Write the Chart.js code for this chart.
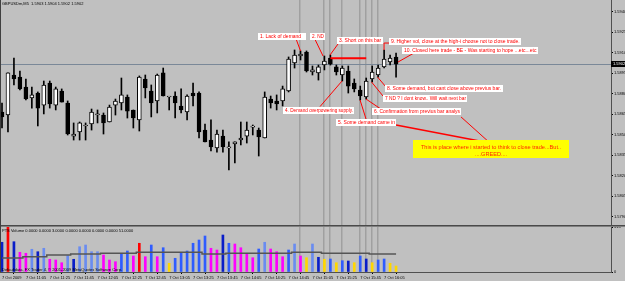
<!DOCTYPE html>
<html><head><meta charset="utf-8">
<script src="https://cdn.jsdelivr.net/npm/chart.js@4.4.0/dist/chart.umd.min.js"></script>
<style>
html,body{margin:0;padding:0;background:#c0c0c0;overflow:hidden}
#wrap{position:relative;width:625px;height:281px;background:#c0c0c0}
#main{position:absolute;left:0;top:0}
#vol{position:absolute;left:0;top:225px}
</style></head><body>
<div id="wrap"><canvas id="main" width="625" height="225"></canvas><canvas id="vol" width="625" height="56"></canvas></div>
<script>
// ---------------- DATA ----------------
const symbolTitle = 'GBPUSDm,M5  1.5903 1.5904 1.5902 1.5902';
const opens = [
1.58666,1.58644,1.58937,1.58922,1.58849,1.58769,1.58805,1.58717,1.58878,1.58717,
1.58820,1.58732,1.58490,1.58520,1.58564,1.58578,1.58644,1.58644,1.58593,1.58717,
1.58732,1.58776,1.58681,1.58608,1.58908,1.58820,1.58747,1.58952,1.58776,1.58783,
1.58710,1.58666,1.58805,1.58805,1.58534,1.58461,1.58403,1.58490,1.58403,1.58432,
1.58461,1.58490,1.58556,1.58534,1.58476,1.58761,1.58747,1.58747,1.58820,1.59025,
1.59076,1.59105,1.58959,1.58952,1.59010,1.59061,1.58996,1.58937,1.58966,1.58878,
1.58827,1.58776,1.58908,1.58937,1.58996,1.59032,1.59069];
const highs = [
1.58732,1.58952,1.59061,1.58966,1.58908,1.58849,1.58813,1.58893,1.58893,1.58849,
1.58835,1.58747,1.58586,1.58593,1.58586,1.58688,1.58681,1.58659,1.58717,1.58761,
1.58915,1.58791,1.58681,1.58930,1.58937,1.58864,1.58944,1.58988,1.58776,1.58813,
1.58835,1.58791,1.58878,1.58813,1.58578,1.58608,1.58534,1.58534,1.58447,1.58447,
1.58593,1.58593,1.58571,1.58549,1.58813,1.58783,1.58791,1.58856,1.59069,1.59120,
1.59113,1.59113,1.59003,1.59010,1.59076,1.59083,1.59010,1.59003,1.59003,1.58908,
1.58856,1.58915,1.59003,1.59010,1.59120,1.59083,1.59098];
const lows = [
1.58549,1.58520,1.58864,1.58827,1.58754,1.58695,1.58564,1.58652,1.58695,1.58681,
1.58739,1.58498,1.58461,1.58461,1.58461,1.58534,1.58586,1.58505,1.58593,1.58644,
1.58681,1.58622,1.58549,1.58527,1.58769,1.58630,1.58659,1.58783,1.58681,1.58622,
1.58659,1.58608,1.58710,1.58476,1.58447,1.58381,1.58373,1.58373,1.58242,1.58293,
1.58425,1.58439,1.58498,1.58344,1.58476,1.58695,1.58681,1.58710,1.58813,1.58988,
1.59047,1.58959,1.58937,1.58900,1.58974,1.59010,1.58937,1.58893,1.58805,1.58813,
1.58754,1.58761,1.58886,1.58922,1.58988,1.59010,1.58922];
const closes = [
1.58630,1.58952,1.58908,1.58835,1.58761,1.58791,1.58695,1.58864,1.58725,1.58835,
1.58739,1.58505,1.58505,1.58586,1.58571,1.58666,1.58652,1.58586,1.58703,1.58747,
1.58791,1.58673,1.58622,1.58922,1.58842,1.58732,1.58937,1.58783,1.58776,1.58732,
1.58681,1.58783,1.58783,1.58520,1.58447,1.58410,1.58505,1.58410,1.58410,1.58447,
1.58476,1.58534,1.58556,1.58483,1.58776,1.58732,1.58725,1.58835,1.59054,1.59083,
1.59091,1.58966,1.58974,1.58996,1.59039,1.59017,1.58959,1.58988,1.58856,1.58835,
1.58783,1.58893,1.58959,1.58988,1.59054,1.59061,1.59017];
const volumes = [
208,330,212,138,131,159,142,166,89,84,
65,114,89,177,189,142,142,119,84,72,
131,147,112,201,107,189,107,170,61,96,
135,147,201,224,252,166,154,259,201,196,
170,131,100,161,208,161,142,107,154,196,
112,100,196,103,89,91,65,79,77,65,
112,91,65,84,91,61,42];
// PTS volume classes per bar
const volumeClasses = [
'D','R','D','M','M','L','D','L','M','M',
'M','L','D','L','L','L','L','M','M','M',
'B','B','M','R','M','B','M','B','Y','B',
'B','B','B','B','B','M','M','D','B','M',
'M','M','M','B','L','M','M','M','B','L',
'M','Y','L','D','Y','B','Y','B','D','Y',
'B','D','Y','B','B','Y','Y'];
const volumeAverage = [
98,98,98,98,107,107,107,107,119,119,119,119,
126,126,126,126,126,131,131,131,131,131,131,
138,138,138,138,138,138,138,138,138,138,138,
126,126,126,126,131,131,131,131,131,131,131,131,131,131,131,
138,138,138,138,138,131,131,131,131,131,131,131,131,
126,126,126,126,126];
const volumeMax = 315;
const volumeTitle = 'PTS Volume 0.0000 0.0000 3.0000 0.0000 0.0000 0.0000 0.0000 51.0000';
const copyrightText = 'Defaultdata, FX Trader 4, \u00a9 2001-2009 MetaQuotes Software Corp.';
const priceTicks = [1.5790,1.5805,1.5820,1.5835,1.5850,1.5865,1.5880,1.5895,1.5910,1.5925,1.5940];
const timeTickBars = [0,4,8,12,16,20,24,28,32,36,40,44,48,52,56,60,64];
const timeTickLabels = ['7 Oct 2009','7 Oct 11:05','7 Oct 11:25','7 Oct 11:45','7 Oct 12:05','7 Oct 12:25','7 Oct 12:45','7 Oct 13:05','7 Oct 13:25','7 Oct 13:45','7 Oct 14:05','7 Oct 14:25','7 Oct 14:45','7 Oct 15:05','7 Oct 15:25','7 Oct 15:45','7 Oct 16:05'];
const currentPrice = 1.5902;
const shortEntry = {from:55, to:61, price:1.5906};
const markedBars = [50,54,55,57,60,61,62,63];
const notes = [
  {text:'1. Lack of demand', from:42.88, to:50.92, price:1.59248},
  {text:'2. ND', from:51.59, to:54.10, price:1.59248},
  {text:'3. Short on this bar', from:56.11, to:63.82, price:1.59215},
  {text:'4. Demand overpowering supply.', from:47.07, to:58.96, price:1.58706},
  {text:'5. Some demand came in', from:55.95, to:66.00, price:1.58615},
  {text:'6. Confirmation from previus bar analys', from:61.89, to:76.88, price:1.58692},
  {text:'7 ND ? I dont know.. Will wait next bar', from:63.82, to:77.89, price:1.58791},
  {text:'8. Some demand, but cant close above previus bar.', from:64.15, to:83.92, price:1.58864},
  {text:'9. Higher vol, close at the high-i choose not to close trade.', from:64.82, to:86.93, price:1.59208},
  {text:'10. Closed here trade - BE - Was starting to hope ...etc...etc', from:67.00, to:89.78, price:1.59142}
];
const connectors = [
  [[49.25,1.59201],[50,1.59113]],
  [[52.43,1.59197],[53.77,1.59076]],
  [[56.28,1.59164],[54.94,1.59083]],
  [[53.27,1.58706],[56.95,1.58893]],
  [[60.97,1.58615],[59.97,1.58754]],
  [[63.32,1.58692],[60.97,1.58761]],
  [[63.82,1.58783],[61.89,1.58886]],
  [[64.32,1.58849],[62.90,1.58922]],
  [[63.99,1.59120],[63.99,1.59171],[64.82,1.59171]],
  [[66.33,1.59032],[68.84,1.59094]],
  [[76.88,1.58630],[81.74,1.58439]]
];
const greedLink = [[66.00,1.58571],[81.74,1.58439]];
const greedNote = {lines:['This is place where i started to think to close trade...But..','....GREED....'], from:68.84, to:94.97, top:1.58461, bottom:1.58330};

// ---------------- STYLE ----------------
const FONT = "'Liberation Sans', Arial, sans-serif";
const style = {
  bull:'#ffffff', bear:'#000000', wick:'#000000',
  volColors:{D:'#0a1ec8', R:'#ff0000', M:'#ff00ff', L:'#6a8cf0', B:'#2f5cff', Y:'#ffd700'},
  avgLine:'#555555', vline:'#a0a0a0', bid:'#7a8898', red:'#ff0000',
  noteFont:'5px '+FONT, axisFont:4
};
const xMin = -0.335, xMax = 102;
const yTop = 1.59486, yBottom = 1.57839;

Chart.defaults.font.family = FONT;
Chart.defaults.color = '#000';

const bars = opens.map((_, i) => i);

function poly(ctx, xs, ys, pts){
  ctx.beginPath();
  pts.forEach((p, k) => {
    const X = xs.getPixelForValue(p[0]), Y = ys.getPixelForValue(p[1]);
    if (k === 0) ctx.moveTo(X, Y); else ctx.lineTo(X, Y);
  });
  ctx.stroke();
}
function vlines(chart){
  const {ctx, chartArea:a, scales:{x}} = chart;
  ctx.save();
  ctx.strokeStyle = style.vline; ctx.lineWidth = 1.5;
  markedBars.forEach(b => {
    const X = Math.floor(x.getPixelForValue(b)) - 0.25;
    ctx.beginPath(); ctx.moveTo(X, a.top); ctx.lineTo(X, a.bottom); ctx.stroke();
  });
  ctx.restore();
}

const mainDecor = {
  id:'mainDecor',
  beforeDatasetsDraw(chart){
    vlines(chart);
    const {ctx, chartArea:a, scales:{y}} = chart;
    const Y = Math.round(y.getPixelForValue(currentPrice)) + 0.5;
    ctx.save(); ctx.strokeStyle = style.bid; ctx.lineWidth = 1;
    ctx.beginPath(); ctx.moveTo(a.left, Y); ctx.lineTo(a.right, Y); ctx.stroke();
    ctx.restore();
  },
  afterDatasetsDraw(chart){
    const {ctx, scales:{x, y}} = chart;
    ctx.save();
    ctx.strokeStyle = style.red; ctx.lineWidth = 1;
    connectors.forEach(c => poly(ctx, x, y, c));
    ctx.lineWidth = 1.6; poly(ctx, x, y, greedLink);
    // notes
    ctx.font = style.noteFont; ctx.textBaseline = 'middle'; ctx.textAlign = 'left';
    notes.forEach(n => {
      const x0 = Math.round(x.getPixelForValue(n.from)), x1 = Math.round(x.getPixelForValue(n.to));
      const y0 = Math.round(y.getPixelForValue(n.price));
      ctx.fillStyle = '#ffffff'; ctx.fillRect(x0, y0, x1 - x0, 7);
      ctx.fillStyle = style.red; ctx.fillText(n.text, x0 + 2, y0 + 3.7, x1 - x0 - 3);
    });
    // greed box
    const gx0 = Math.round(x.getPixelForValue(greedNote.from)), gx1 = Math.round(x.getPixelForValue(greedNote.to));
    const gy0 = Math.round(y.getPixelForValue(greedNote.top)), gy1 = Math.round(y.getPixelForValue(greedNote.bottom));
    ctx.fillStyle = '#ffff00'; ctx.fillRect(gx0, gy0, gx1 - gx0, gy1 - gy0);
    ctx.fillStyle = '#ff2a00'; ctx.font = '5.6px ' + FONT; ctx.textAlign = 'center';
    const cx = (gx0 + gx1) / 2;
    ctx.fillText(greedNote.lines[0], cx, gy0 + 7.5, gx1 - gx0 - 8);
    ctx.fillText(greedNote.lines[1], cx, gy0 + 14.5);
    ctx.restore();
  },
  afterDraw(chart){
    const {ctx, chartArea:a, scales:{y}} = chart;
    ctx.save();
    const Y = Math.round(y.getPixelForValue(currentPrice));
    ctx.fillStyle = '#000'; ctx.fillRect(a.right, Y - 3, 625 - a.right, 6);
    ctx.fillStyle = '#fff'; ctx.font = '4px ' + FONT; ctx.textBaseline = 'middle'; ctx.textAlign = 'left';
    ctx.fillText(currentPrice.toFixed(4), a.right + 2, Y + 0.3);
    ctx.fillStyle = '#000'; ctx.fillText(symbolTitle, 2, 4);
    ctx.fillStyle = '#404040'; ctx.fillRect(0, 0, 1, 225);
    ctx.restore();
  }
};

const volDecor = {
  id:'volDecor',
  beforeDatasetsDraw(chart){ vlines(chart); },
  afterDraw(chart){
    const {ctx} = chart;
    ctx.save();
    ctx.fillStyle = '#4a4a4a'; ctx.fillRect(0, 0, 625, 1);
    ctx.fillStyle = '#808080'; ctx.fillRect(0, 1, 625, 1);
    ctx.fillStyle = '#000'; ctx.font = '4px ' + FONT; ctx.textBaseline = 'middle'; ctx.textAlign = 'left';
    ctx.fillText(volumeTitle, 2, 5.5);
    ctx.fillText(copyrightText, 2, 45);
    ctx.fillStyle = '#404040'; ctx.fillRect(0, 0, 1, 47);
    ctx.restore();
  }
};

new Chart(document.getElementById('main'), {
  type:'bar',
  data:{datasets:[
    {type:'line', data:[{x:shortEntry.from, y:shortEntry.price},{x:shortEntry.to, y:shortEntry.price}],
     borderColor:style.red, borderWidth:2, pointRadius:0, order:0},
    {data:bars.map(i => ({x:i, y:[opens[i], closes[i]]})),
     backgroundColor:bars.map(i => closes[i] >= opens[i] ? style.bull : style.bear),
     borderColor:'#000', borderWidth:1, borderSkipped:false, barThickness:4, minBarLength:1, grouped:false, order:1},
    {data:bars.map(i => ({x:i, y:[lows[i], highs[i]]})),
     backgroundColor:style.wick, borderWidth:0, barThickness:1, grouped:false, order:2}
  ]},
  options:{
    responsive:false, animation:false, devicePixelRatio:1,
    layout:{padding:0},
    plugins:{legend:{display:false}, tooltip:{enabled:false}},
    scales:{
      x:{type:'linear', min:xMin, max:xMax, display:false, offset:false},
      y:{position:'right', min:yBottom, max:yTop,
         afterBuildTicks:s => { s.ticks = priceTicks.map(v => ({value:v})); },
         afterFit:s => { s.width = 14; s.paddingTop = 0; s.paddingBottom = 0; },
         ticks:{font:{size:style.axisFont}, color:'#000', padding:1, autoSkip:false, callback:v => Number(v).toFixed(4)},
         grid:{drawOnChartArea:false, drawTicks:true, tickLength:2, color:'#000'},
         border:{display:true, color:'#505050', width:1}}
    }
  },
  plugins:[mainDecor]
});

new Chart(document.getElementById('vol'), {
  type:'bar',
  data:{datasets:[
    {type:'line', data:volumeAverage.map((v, i) => ({x:i, y:v})), stepped:'middle',
     borderColor:style.avgLine, borderWidth:1.5, pointRadius:0, order:0},
    {data:volumes.map((v, i) => ({x:i, y:v})),
     backgroundColor:volumeClasses.map(c => style.volColors[c]), barThickness:2, borderWidth:0, clip:0, order:1}
  ]},
  options:{
    responsive:false, animation:false, devicePixelRatio:1,
    layout:{padding:{top:2, left:0, right:0, bottom:0}},
    plugins:{legend:{display:false}, tooltip:{enabled:false}},
    scales:{
      x:{type:'linear', min:xMin, max:xMax, offset:false, position:'bottom',
         afterBuildTicks:s => { s.ticks = timeTickBars.map(v => ({value:v})); },
         afterFit:s => { s.height = 9; s.paddingLeft = 0; s.paddingRight = 0; },
         ticks:{align:'start', font:{size:style.axisFont}, color:'#000', padding:1, autoSkip:false, maxRotation:0,
                callback:(v, idx) => timeTickLabels[idx]},
         grid:{drawOnChartArea:false, drawTicks:true, tickLength:2, color:'#000'},
         border:{display:true, color:'#505050', width:1}},
      y:{position:'right', min:0, max:volumeMax,
         afterBuildTicks:s => { s.ticks = [{value:0},{value:volumeMax}]; },
         afterFit:s => { s.width = 14; s.paddingTop = 0; s.paddingBottom = 0; },
         ticks:{font:{size:style.axisFont}, color:'#000', padding:1, autoSkip:false},
         grid:{drawOnChartArea:false, drawTicks:true, tickLength:2, color:'#000'},
         border:{display:true, color:'#505050', width:1}}
    }
  },
  plugins:[volDecor]
});
</script>
</body></html>
